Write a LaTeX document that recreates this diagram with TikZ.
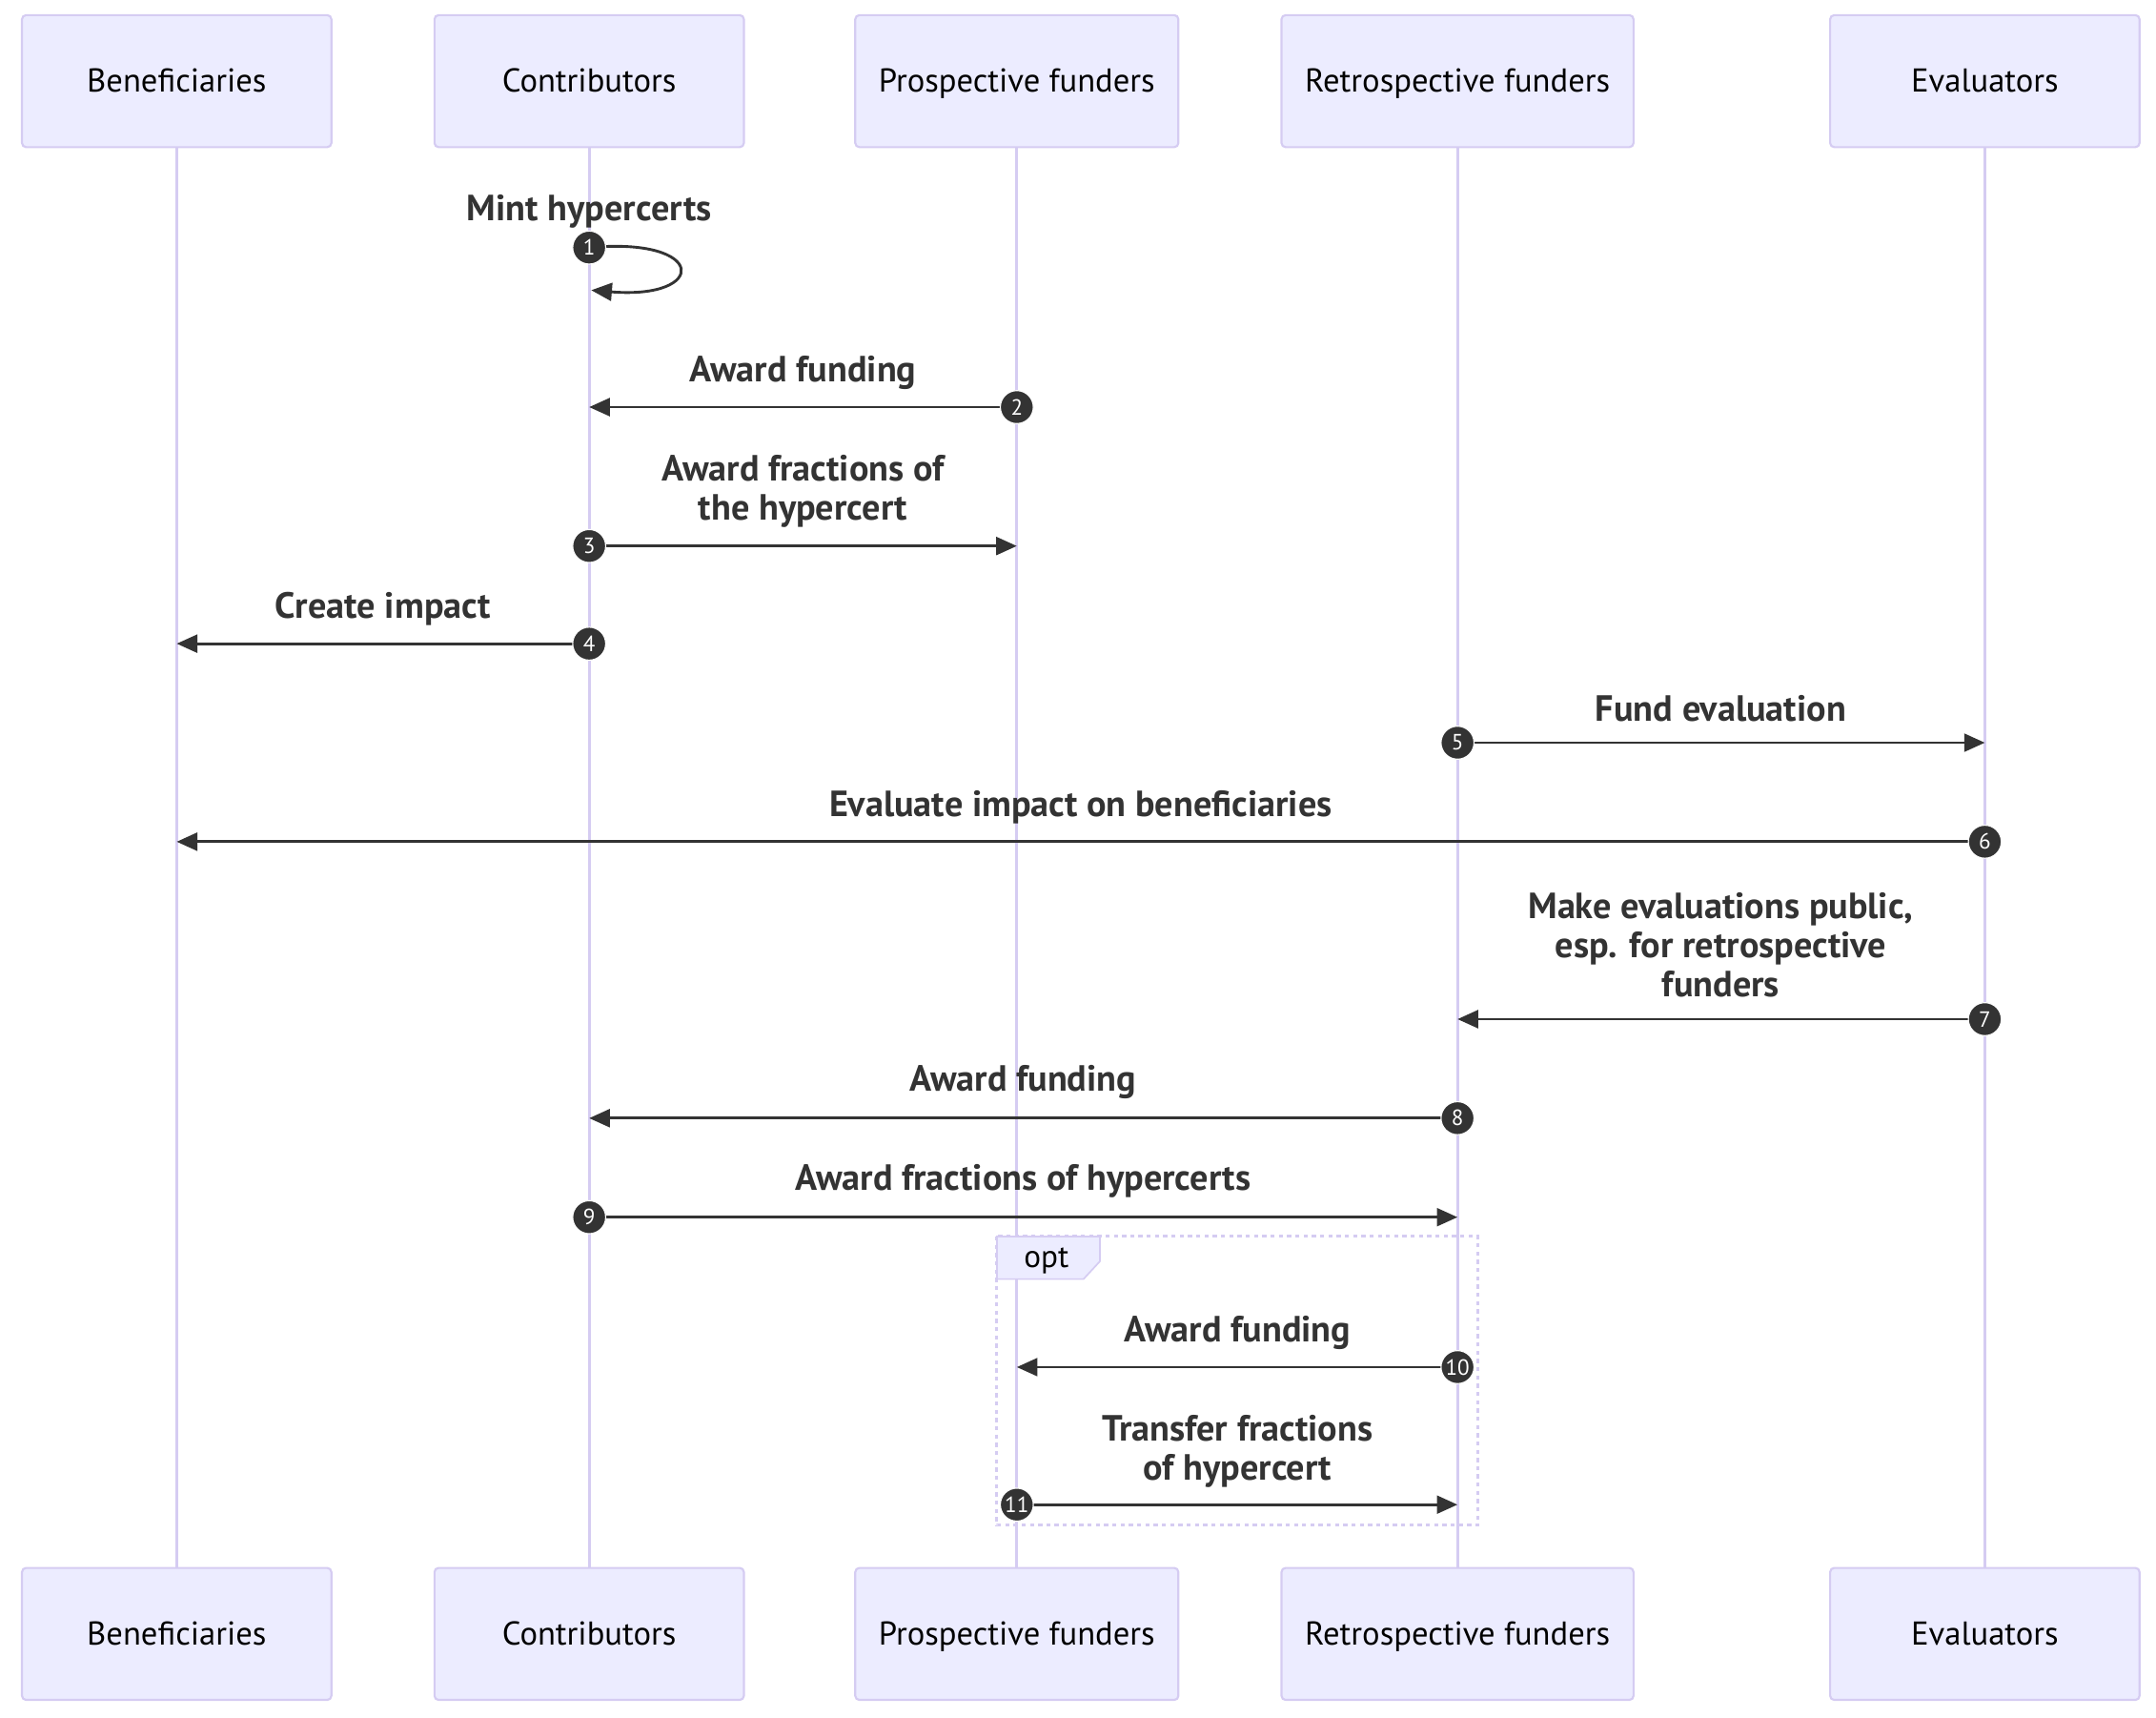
\documentclass[tikz,border=0pt]{standalone}
\usepackage{fontspec}
\setmainfont{PT Sans}
\usetikzlibrary{arrows.meta}
\definecolor{actfill}{HTML}{ECECFF}
\definecolor{actline}{HTML}{D5CCF2}
\definecolor{msgc}{HTML}{333333}
\begin{document}
\begin{tikzpicture}[x=1pt,y=-1pt,
  actor/.style={draw=actline, fill=actfill, line width=1.5pt, rounded corners=3pt,
    minimum height=96pt, inner sep=0pt, font=\fontsize{24}{28}\selectfont, text=black,
    text height=18pt, text depth=2pt},
  life/.style={actline, line width=2.2pt},
  msgline/.style={msgc, line width=2pt, -{Triangle[length=15pt,width=13pt]}},
  lbl/.style={font=\fontsize{26.5}{28.5}\selectfont\bfseries, text=msgc, align=center, inner sep=0pt},
  num/.style={circle, fill=msgc, draw=white, line width=0.8pt, minimum size=24pt, inner sep=0pt,
    text=white, font=\fontsize{16}{16}\selectfont}
]
\useasboundingbox (0,0) rectangle (1568,1249);
% actors top
\node[actor, minimum width=225pt] (bT) at (128.5,59) {Beneficiaries};
\node[actor, minimum width=225pt] (cT) at (428.5,59) {Contributors};
\node[actor, minimum width=235pt] (pT) at (739.5,59) {Prospective funders};
\node[actor, minimum width=256pt] (rT) at (1060,59) {Retrospective funders};
\node[actor, minimum width=225pt] (eT) at (1443.5,59) {Evaluators};
% actors bottom
\node[actor, minimum width=225pt] (bB) at (128.5,1188) {Beneficiaries};
\node[actor, minimum width=225pt] (cB) at (428.5,1188) {Contributors};
\node[actor, minimum width=235pt] (pB) at (739.5,1188) {Prospective funders};
\node[actor, minimum width=256pt] (rB) at (1060,1188) {Retrospective funders};
\node[actor, minimum width=225pt] (eB) at (1443.5,1188) {Evaluators};
% lifelines
\draw[life] (bT.south) -- (bB.north);
\draw[life] (cT.south) -- (cB.north);
\draw[life] (pT.south) -- (pB.north);
\draw[life] (rT.south) -- (rB.north);
\draw[life] (eT.south) -- (eB.north);
% opt frame
\draw[actline, line width=2pt, dash pattern=on 3pt off 3pt] (725,899) rectangle (1075,1109);
\draw[actline, fill=actfill, line width=1.2pt] (725,899) -- (800,899) -- (800,917) -- (788,930) -- (725,930) -- cycle;
\node[font=\fontsize{23}{26}\selectfont, text=black] (opt) at (761,917) {opt};
% message anchor coordinates
\coordinate (m1s) at (428.5,180); \coordinate (m1e) at (430,211);
\coordinate (m2s) at (739.5,296); \coordinate (m2e) at (428.5,296);
\coordinate (m3s) at (428.5,397); \coordinate (m3e) at (739.5,397);
\coordinate (m4s) at (428.5,468); \coordinate (m4e) at (128.5,468);
\coordinate (m5s) at (1060,540); \coordinate (m5e) at (1443.5,540);
\coordinate (m6s) at (1443.5,612); \coordinate (m6e) at (128.5,612);
\coordinate (m7s) at (1443.5,741); \coordinate (m7e) at (1060,741);
\coordinate (m8s) at (1060,813); \coordinate (m8e) at (428.5,813);
\coordinate (m9s) at (428.5,885); \coordinate (m9e) at (1060,885);
\coordinate (m10s) at (1060,994); \coordinate (m10e) at (739.5,994);
\coordinate (m11s) at (739.5,1094); \coordinate (m11e) at (1060,1094);
% messages
\draw[msgline] (m1s) .. controls (515,172) and (515,218) .. (m1e);
\node[lbl] (l1) at (428.5,154) {Mint hypercerts};
\draw[msgline] (m2s) -- (m2e);
\node[lbl] (l2) at (584,271) {Award funding};
\draw[msgline] (m3s) -- (m3e);
\node[lbl] (l3) at (584,357) {Award fractions of\\the hypercert};
\draw[msgline] (m4s) -- (m4e);
\node[lbl] (l4) at (278.5,443) {Create impact};
\draw[msgline] (m5s) -- (m5e);
\node[lbl] (l5) at (1251.5,515) {Fund evaluation};
\draw[msgline] (m6s) -- (m6e);
\node[lbl] (l6) at (786,587) {Evaluate impact on beneficiaries};
\draw[msgline] (m7s) -- (m7e);
\node[lbl] (l7) at (1251.5,687) {Make evaluations public,\\esp. for retrospective\\funders};
\draw[msgline] (m8s) -- (m8e);
\node[lbl] (l8) at (744,787) {Award funding};
\draw[msgline] (m9s) -- (m9e);
\node[lbl] (l9) at (744,859) {Award fractions of hypercerts};
\draw[msgline] (m10s) -- (m10e);
\node[lbl] (l10) at (900,969) {Award funding};
\draw[msgline] (m11s) -- (m11e);
\node[lbl] (l11) at (900,1055) {Transfer fractions\\of hypercert};
% sequence numbers
\node[num] (n1) at (m1s) {1};
\node[num] (n2) at (m2s) {2};
\node[num] (n3) at (m3s) {3};
\node[num] (n4) at (m4s) {4};
\node[num] (n5) at (m5s) {5};
\node[num] (n6) at (m6s) {6};
\node[num] (n7) at (m7s) {7};
\node[num] (n8) at (m8s) {8};
\node[num] (n9) at (m9s) {9};
\node[num] (n10) at (m10s) {10};
\node[num] (n11) at (m11s) {11};
\end{tikzpicture}
\end{document}
